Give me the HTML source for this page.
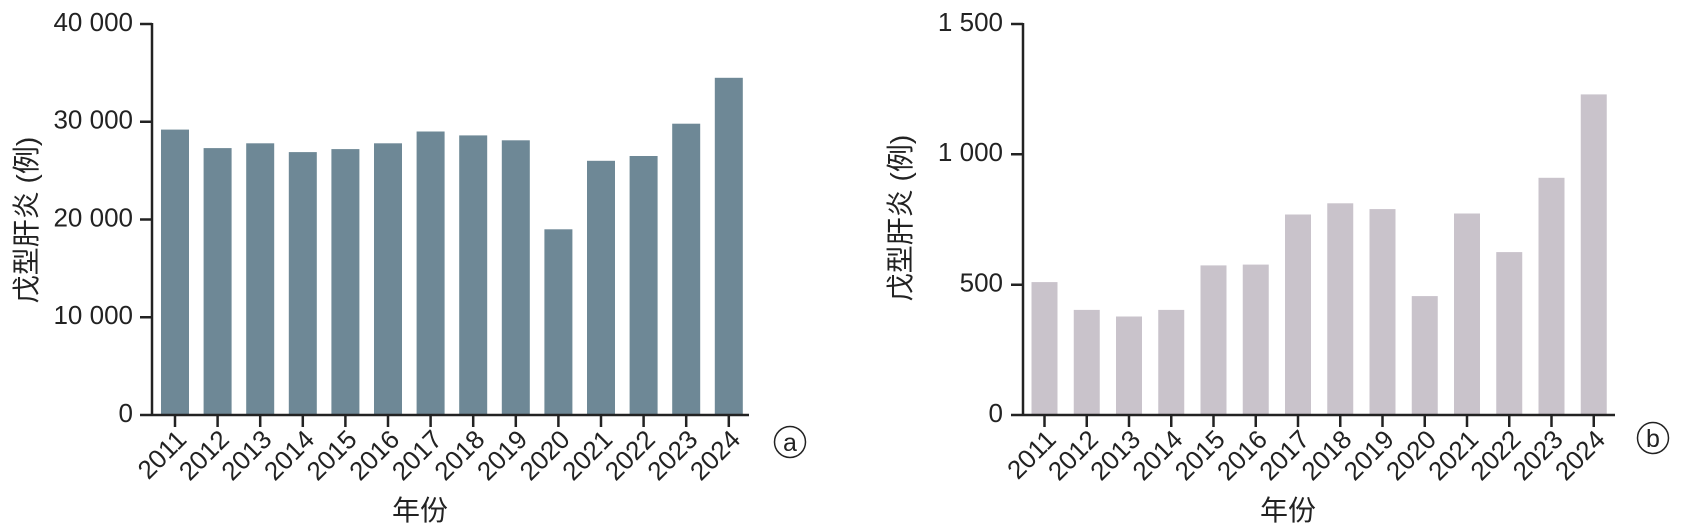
<!DOCTYPE html>
<html><head><meta charset="utf-8"><style>
html,body{margin:0;padding:0;background:#fff;}
svg{display:block;}
text{font-family:"Liberation Sans","Noto Sans CJK SC",sans-serif;fill:#222;}
.yt{font-size:26px;text-anchor:end;dominant-baseline:middle;}
.xt{font-size:26px;text-anchor:end;}
.ttl{font-size:28px;text-anchor:middle;}
</style></head><body>
<svg width="1681" height="531" viewBox="0 0 1681 531" xmlns="http://www.w3.org/2000/svg">
<g fill="#6e8896">
<rect x="161" y="129.6" width="28" height="285.4"/>
<rect x="203.6" y="148.1" width="28" height="266.9"/>
<rect x="246.2" y="143.3" width="28" height="271.7"/>
<rect x="288.8" y="152.1" width="28" height="262.9"/>
<rect x="331.4" y="149.1" width="28" height="265.9"/>
<rect x="374" y="143.3" width="28" height="271.7"/>
<rect x="416.6" y="131.5" width="28" height="283.5"/>
<rect x="459.2" y="135.4" width="28" height="279.6"/>
<rect x="501.8" y="140.3" width="28" height="274.7"/>
<rect x="544.4" y="229.3" width="28" height="185.7"/>
<rect x="587" y="160.8" width="28" height="254.2"/>
<rect x="629.6" y="156" width="28" height="259"/>
<rect x="672.2" y="123.7" width="28" height="291.3"/>
<rect x="714.8" y="77.8" width="28" height="337.2"/>
</g>
<g stroke="#222" stroke-width="2.5" fill="none">
<path d="M152 23 V415 M140 415 H749"/>
<path d="M140 24 H152 M140 121.75 H152 M140 219.5 H152 M140 317.25 H152"/>
<path d="M175 415 V427 M217.6 415 V427 M260.2 415 V427 M302.8 415 V427 M345.4 415 V427 M388 415 V427 M430.6 415 V427 M473.2 415 V427 M515.8 415 V427 M558.4 415 V427 M601 415 V427 M643.6 415 V427 M686.2 415 V427 M728.8 415 V427"/>
</g>
<text class="yt" x="133" y="24">40 000</text>
<text class="yt" x="133" y="121.75">30 000</text>
<text class="yt" x="133" y="219.5">20 000</text>
<text class="yt" x="133" y="317.25">10 000</text>
<text class="yt" x="133" y="415">0</text>
<text class="xt" transform="translate(188,441) rotate(-45)">2011</text>
<text class="xt" transform="translate(230.6,441) rotate(-45)">2012</text>
<text class="xt" transform="translate(273.2,441) rotate(-45)">2013</text>
<text class="xt" transform="translate(315.8,441) rotate(-45)">2014</text>
<text class="xt" transform="translate(358.4,441) rotate(-45)">2015</text>
<text class="xt" transform="translate(401,441) rotate(-45)">2016</text>
<text class="xt" transform="translate(443.6,441) rotate(-45)">2017</text>
<text class="xt" transform="translate(486.2,441) rotate(-45)">2018</text>
<text class="xt" transform="translate(528.8,441) rotate(-45)">2019</text>
<text class="xt" transform="translate(571.4,441) rotate(-45)">2020</text>
<text class="xt" transform="translate(614,441) rotate(-45)">2021</text>
<text class="xt" transform="translate(656.6,441) rotate(-45)">2022</text>
<text class="xt" transform="translate(699.2,441) rotate(-45)">2023</text>
<text class="xt" transform="translate(741.8,441) rotate(-45)">2024</text>
<text class="ttl" x="420" y="520">年份</text>
<text class="ttl" transform="translate(36,220) rotate(-90)">戊型肝炎 (例)</text>
<circle cx="790" cy="442" r="15.5" fill="none" stroke="#222" stroke-width="1.5"/>
<text x="790" y="451" font-size="25" text-anchor="middle">a</text>

<g fill="#c9c3cb">
<rect x="1031.5" y="282.1" width="26" height="132.9"/>
<rect x="1073.75" y="309.9" width="26" height="105.1"/>
<rect x="1116" y="316.5" width="26" height="98.5"/>
<rect x="1158.25" y="309.9" width="26" height="105.1"/>
<rect x="1200.5" y="265.4" width="26" height="149.6"/>
<rect x="1242.75" y="264.6" width="26" height="150.4"/>
<rect x="1285" y="214.5" width="26" height="200.5"/>
<rect x="1327.25" y="203.3" width="26" height="211.7"/>
<rect x="1369.5" y="209.1" width="26" height="205.9"/>
<rect x="1411.75" y="296.1" width="26" height="118.9"/>
<rect x="1454" y="213.5" width="26" height="201.5"/>
<rect x="1496.25" y="252.1" width="26" height="162.9"/>
<rect x="1538.5" y="177.8" width="26" height="237.2"/>
<rect x="1580.75" y="94.4" width="26" height="320.6"/>
</g>
<g stroke="#222" stroke-width="2.5" fill="none">
<path d="M1023 23 V415 M1011 415 H1615"/>
<path d="M1011 24 H1023 M1011 154.3 H1023 M1011 284.7 H1023"/>
<path d="M1044.5 415 V427 M1086.75 415 V427 M1129 415 V427 M1171.25 415 V427 M1213.5 415 V427 M1255.75 415 V427 M1298 415 V427 M1340.25 415 V427 M1382.5 415 V427 M1424.75 415 V427 M1467 415 V427 M1509.25 415 V427 M1551.5 415 V427 M1593.75 415 V427"/>
</g>
<text class="yt" x="1003" y="24">1 500</text>
<text class="yt" x="1003" y="154.3">1 000</text>
<text class="yt" x="1003" y="284.7">500</text>
<text class="yt" x="1003" y="415">0</text>
<text class="xt" transform="translate(1057.5,441) rotate(-45)">2011</text>
<text class="xt" transform="translate(1099.75,441) rotate(-45)">2012</text>
<text class="xt" transform="translate(1142,441) rotate(-45)">2013</text>
<text class="xt" transform="translate(1184.25,441) rotate(-45)">2014</text>
<text class="xt" transform="translate(1226.5,441) rotate(-45)">2015</text>
<text class="xt" transform="translate(1268.75,441) rotate(-45)">2016</text>
<text class="xt" transform="translate(1311,441) rotate(-45)">2017</text>
<text class="xt" transform="translate(1353.25,441) rotate(-45)">2018</text>
<text class="xt" transform="translate(1395.5,441) rotate(-45)">2019</text>
<text class="xt" transform="translate(1437.75,441) rotate(-45)">2020</text>
<text class="xt" transform="translate(1480,441) rotate(-45)">2021</text>
<text class="xt" transform="translate(1522.25,441) rotate(-45)">2022</text>
<text class="xt" transform="translate(1564.5,441) rotate(-45)">2023</text>
<text class="xt" transform="translate(1606.75,441) rotate(-45)">2024</text>
<text class="ttl" x="1288" y="520">年份</text>
<text class="ttl" transform="translate(910,218) rotate(-90)">戊型肝炎 (例)</text>
<circle cx="1653" cy="438" r="15.5" fill="none" stroke="#222" stroke-width="1.5"/>
<text x="1653" y="447" font-size="25" text-anchor="middle">b</text>
</svg>
</body></html>
